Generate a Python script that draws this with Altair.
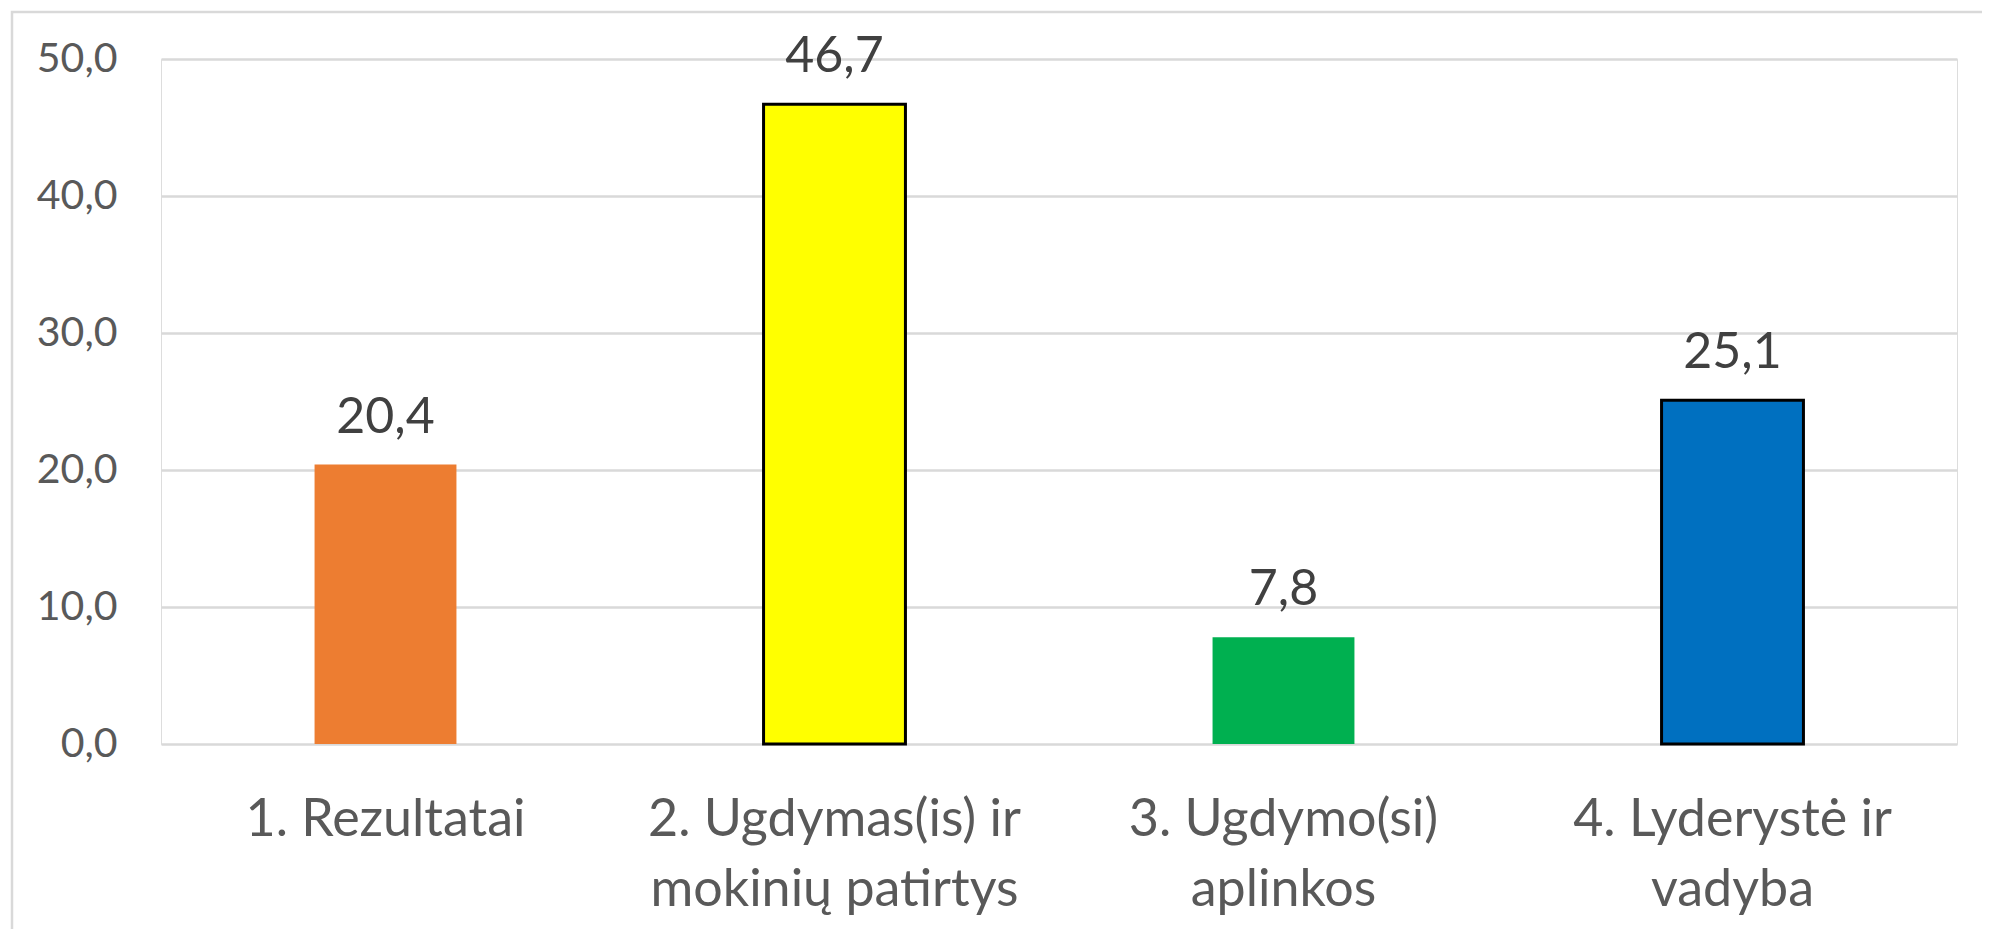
import altair as alt
import pandas as pd

categories = ["1. Rezultatai", "2. Ugdymas(is) ir|mokinių patirtys", "3. Ugdymo(si)|aplinkos", "4. Lyderystė ir|vadyba"]
values = [20.4, 46.7, 7.8, 25.1]
fills = ["#ED7D31", "#FFFF00", "#00B050", "#0070C0"]
strokes = ["#000000", "#000000", "#000000", "#000000"]
stroke_widths = [0, 3, 0, 3]
y_ticks = [0, 10, 20, 30, 40, 50]

df = pd.DataFrame({"cat": categories, "val": values, "fill": fills,
                   "stroke": strokes, "sw": stroke_widths})

FONT = "Lato"

x_enc = alt.X("cat:N", sort=categories,
              scale=alt.Scale(paddingInner=0.684, paddingOuter=0.342),
              axis=alt.Axis(title=None, labelAngle=0, labelFont=FONT, labelFontSize=52,
                            labelColor="#595959", labelPadding=50, ticks=False, domain=False,
                            labelExpr="split(datum.label, '|')", labelLineHeight=70,
                            labelBaseline="top", labelLimit=1000))
y_enc = alt.Y("val:Q", scale=alt.Scale(domain=[0, 50], nice=False),
              axis=alt.Axis(title=None, values=y_ticks, labelFont=FONT, labelFontSize=41,
                            labelColor="#595959", labelPadding=44, ticks=False, domain=False,
                            grid=True, gridColor="#d9d9d9", gridWidth=2.5, labelLimit=1000,
                            labelExpr="replace(format(datum.value, '.1f'), '.', ',')"))

bars = alt.Chart(df).mark_bar().encode(
    x=x_enc, y=y_enc,
    fill=alt.Fill("fill:N", scale=None),
    stroke=alt.Stroke("stroke:N", scale=None),
    strokeWidth=alt.StrokeWidth("sw:Q", scale=None),
)

labels = alt.Chart(df).transform_calculate(
    lbl="replace(format(datum.val, '.1f'), '.', ',')"
).mark_text(font=FONT, fontSize=50, color="#404040", baseline="alphabetic", dy=-32).encode(
    x=alt.X("cat:N", sort=categories), y="val:Q", text="lbl:N"
)

border = alt.Chart(pd.DataFrame({"a": [0]})).mark_rect(
    fill="transparent", stroke="#d9d9d9", strokeWidth=2.5
).encode(x=alt.value(-149), x2=alt.value(1900), y=alt.value(-47), y2=alt.value(950))

chart = alt.layer(border, bars, labels).properties(
    width=1796, height=685,
    autosize=alt.AutoSizeParams(type="none"),
    padding={"left": 153, "top": 51, "right": 25, "bottom": 185},
).configure_view(stroke=None).configure(background="white")

chart.save("out.html", embed_options={"renderer": "svg", "actions": False})
